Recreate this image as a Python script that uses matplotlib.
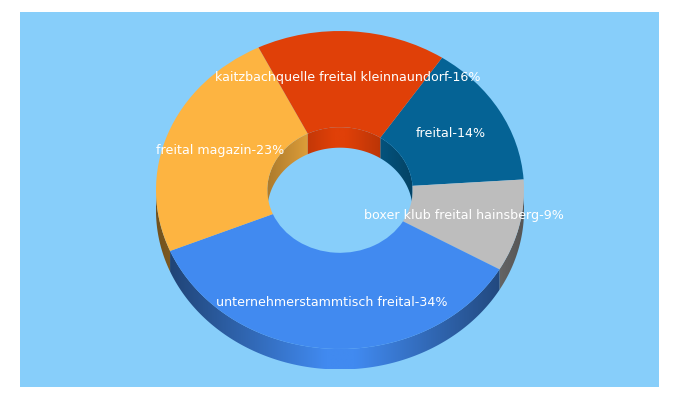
import numpy as np
from matplotlib import pyplot as plt
from matplotlib.patches import Rectangle, Polygon
from matplotlib.colors import to_rgb

names = ['freital', 'boxer klub freital hainsberg', 'unternehmerstammtisch freital',
         'freital magazin', 'kaitzbachquelle freital kleinnaundorf']
values = [14, 9, 34, 23, 16]
colors = ['#056395', '#BDBDBD', '#418AF0', '#FDB441', '#E04008']

W, H = 680, 400
cx, cy = 340, 190      # pixel centre of the top face
rx, ry = 184, 159      # outer radii in pixels
hole = 0.395           # inner radius / outer radius
depth = 20.5 / ry      # wall height in axis units
start = 56.3


def draw_wall(a1, a2, col, radius, lower, strength):
    # a1 > a2, clockwise. polygon for the visible part, gradient image clipped to it
    angs = np.arange(a2, a1 + 0.25, 0.25)
    s = np.sin(np.radians(angs))
    angs = angs[s <= 0] if lower else angs[s >= 0]
    if len(angs) < 2:
        return
    xs = radius * np.cos(np.radians(angs))
    ys = radius * np.sin(np.radians(angs))
    pts = np.vstack([np.column_stack([xs, ys]),
                     np.column_stack([xs, ys - depth])[::-1]])
    poly = Polygon(pts, closed=True, facecolor='none', edgecolor='none', transform=ax.transData)
    ax.add_patch(poly)

    gx = np.linspace(-radius, radius, 256)
    k = 1 - strength * np.clip((np.abs(gx) / radius - 0.08) / 0.92, 0, 1)
    img = np.array(to_rgb(col))[None, None, :] * k[None, :, None]
    im = ax.imshow(img, extent=(-radius, radius, -radius - depth, radius), aspect='auto',
                   interpolation='bilinear', zorder=1)
    im.set_clip_path(poly)


fig = plt.figure(figsize=(W / 100, H / 100), dpi=100, facecolor='white')
fig.add_artist(Rectangle((20 / W, 1 - 387 / H), 639 / W, 375 / H, transform=fig.transFigure,
                         facecolor='#87CEFA', edgecolor='none', zorder=-1))
ax = fig.add_axes([0, 0, 1, 1])

angle = start
for v, col in zip(values, colors):
    span = 360 * v / sum(values)
    draw_wall(angle, angle - span, col, 1.0, True, 0.55)
    draw_wall(angle, angle - span, col, hole, False, 0.32)
    angle -= span

labels = ['%s-%d%%' % (n, v) for n, v in zip(names, values)]
wedges, texts = ax.pie(values, labels=labels, colors=colors, startangle=start, counterclock=False,
                       radius=1.0, labeldistance=0.693,
                       wedgeprops={'width': 1 - hole, 'linewidth': 0},
                       textprops={'color': 'white', 'fontsize': 9.1})
for t in texts:
    t.set_ha('center')
    t.set_va('center')
    x, y = t.get_position()
    t.set_position((x, y * 1.02))

ax.set_aspect('auto')
ax.set_xlim(-cx / rx, (W - cx) / rx)
ax.set_ylim(-(H - cy) / ry, cy / ry)
ax.axis('off')

fig.savefig('out.png', dpi=100)
